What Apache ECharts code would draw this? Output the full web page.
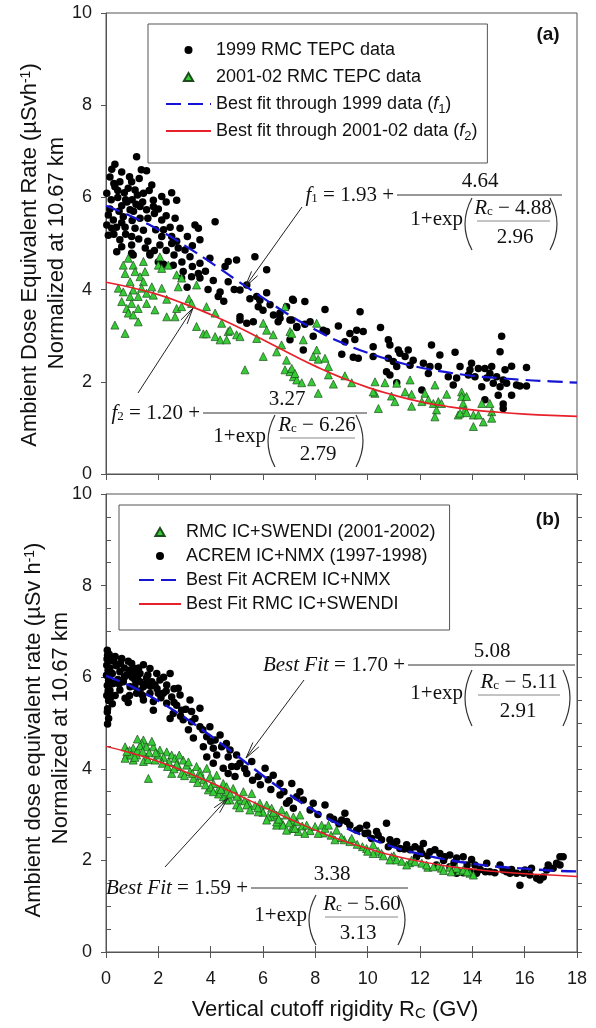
<!DOCTYPE html>
<html>
<head>
<meta charset="utf-8">
<script src="https://cdn.jsdelivr.net/npm/echarts@6/dist/echarts.min.js"></script>
<style>
html,body{margin:0;padding:0;background:#fff}
#chart{width:596px;height:1028px}
</style>
</head>
<body>
<div id="chart"></div>
<script>
// ---- data ----
// (a) 1999 RMC TEPC data  [Rc, rate]
var tepc1999 = [
 [1.17,6.88],[0.34,6.72],[0.22,6.61],[0.15,6.44],[0.53,6.34],[0.34,6.23],[0.98,6.34],[1.27,6.41],[1.55,6.58],[1.75,6.27],
 [1.11,6.16],[1.43,6.09],[0.03,6.09],[2.51,6.10],[2.70,5.94],[2.13,6.02],[1.81,5.94],[0.80,5.90],[1.00,5.95],[1.15,5.85],
 [1.30,5.80],[0.60,5.82],[0.92,5.73],[1.55,5.73],[1.81,5.80],[0.09,5.62],[0.28,5.51],[0.66,5.58],[1.30,5.55],[2.13,5.51],
 [2.64,5.55],[4.17,5.47],[0.03,5.40],[0.22,5.33],[0.73,5.35],[1.11,5.33],[1.43,5.29],[2.45,5.35],[2.83,5.33],[3.40,5.40],
 [3.53,5.33],[0.09,5.18],[0.53,5.08],[0.98,5.15],[2.13,5.15],[2.51,5.15],[3.11,5.15],[3.59,5.08],[0.60,4.93],[0.98,4.97],
 [2.06,4.97],[2.51,5.00],[2.76,4.90],[0.41,4.82],[0.98,4.79],[1.68,4.75],[3.02,4.86],[3.21,4.71],[3.97,4.68],[4.67,4.61],
 [4.99,4.64],[5.69,4.71],[4.55,4.50],[2.95,4.39],[3.53,4.35],[3.27,4.28],[2.89,4.25],[3.59,4.25],[4.67,4.17],[5.38,4.10],
 [6.14,4.43],[6.14,3.93],[5.88,3.77],[4.36,3.95],[4.29,3.85],[5.82,3.63],[6.27,3.67],[6.90,3.63],[7.13,3.79],[6.65,3.49],
 [7.03,3.34],[6.58,3.30],[5.63,3.30],[5.12,3.41],[5.38,3.27],[7.29,3.20],[1.04,4.75],[1.68,4.79],[2.57,4.53],[3.59,4.57],
 [5.12,3.99],[5.76,3.85],[5.12,3.34],[7.16,3.77],[7.03,2.91],[6.65,3.38],[0.45,6.00],[0.70,6.10],[0.85,6.20],[1.20,6.05],
 [1.40,5.90],[0.50,5.70],[0.20,5.95],[1.65,6.15],[2.00,5.75],[2.30,5.60],[0.15,5.75],[0.40,5.35],[1.90,5.30],[2.30,5.90],
 [1.00,5.50],[0.75,5.20],[1.60,5.05],[2.30,4.85],[2.00,4.60],
 [0.30,6.30],[0.60,6.55],[0.90,6.45],[1.35,6.60],[0.45,6.15],[0.75,5.95],[1.05,5.70],[1.60,5.55],[1.85,5.65],[2.20,5.30],
 [0.30,5.20],[0.60,5.45],[1.25,5.10],[1.50,4.90],[1.85,4.85],[2.60,4.75],[2.90,4.60],[3.30,4.50],[3.80,4.40],[4.10,4.20],
 [4.90,4.00],[5.50,3.80],[6.00,3.55],[6.40,3.45],[3.10,4.05],[3.90,4.00],[4.50,3.75],[2.20,4.55],[2.70,5.05],[3.30,4.95],
 [7.60,3.74],[8.37,3.57],[9.71,3.52],[7.10,3.34],[7.29,3.18],[7.60,3.25],[7.80,3.30],[7.92,2.99],[7.54,2.69],[8.30,3.12],
 [8.43,3.09],[8.88,3.21],[9.32,3.05],[9.58,3.12],[9.83,3.09],[9.51,2.92],[9.13,2.87],[9.01,2.60],[9.45,2.53],[9.64,2.51],
 [10.49,3.18],[10.21,2.76],[10.79,2.91],[10.85,2.80],[10.21,2.55],[10.79,2.51],[10.98,2.44],[10.72,2.22],[10.85,2.15],[11.11,2.33],
 [11.17,2.69],[11.23,2.62],[11.55,2.69],[11.43,2.55],[11.74,2.47],[11.62,2.36],[12.13,2.40],[12.38,2.33],[12.44,2.80],[12.76,2.58],
 [12.70,2.33],[12.32,2.18],[12.07,1.82],[11.11,1.98],[13.34,2.64],[13.53,2.33],[13.40,2.08],[13.08,2.11],[13.27,1.93],[13.97,2.40],
 [13.91,2.26],[14.23,2.29],[13.85,2.15],[14.10,2.11],[14.48,2.29],[14.74,2.33],[14.67,2.18],[14.36,1.89],[14.55,2.08],[15.12,2.99],
 [15.06,2.65],[15.25,2.26],[15.50,2.34],[14.93,2.11],[15.18,2.04],[14.80,1.97],[15.06,1.89],[15.31,1.97],[14.99,1.71],[15.50,1.71],
 [15.18,1.52],[15.18,1.42],[14.48,1.61],[15.69,1.93],[15.82,1.91],[16.07,1.91],[16.07,2.31]
];
// (a) 2001-02 RMC TEPC data
var tepc2001 = [
 [0.85,4.68],[0.66,4.53],[1.04,4.53],[1.43,4.61],[2.00,4.53],[2.06,4.71],[2.38,4.53],[0.73,4.35],[1.11,4.39],[1.49,4.39],
 [2.13,4.46],[1.30,4.28],[1.43,4.17],[0.92,4.17],[2.70,4.32],[2.89,4.25],[2.76,4.06],[3.46,4.10],[0.47,4.03],[0.66,3.95],
 [1.04,3.99],[1.36,4.03],[1.75,4.06],[1.55,3.92],[0.92,3.85],[1.23,3.85],[1.81,3.88],[2.13,4.03],[2.32,3.79],[0.60,3.74],
 [0.98,3.70],[1.55,3.70],[3.17,3.80],[3.27,3.70],[2.70,3.59],[2.89,3.63],[3.84,3.63],[0.79,3.59],[1.23,3.59],[1.87,3.56],
 [0.85,3.49],[1.04,3.45],[2.32,3.41],[2.64,3.41],[4.17,3.49],[1.23,3.30],[0.34,3.23],[3.46,3.20],[4.42,3.27],[0.73,3.05],
 [3.72,3.04],[3.84,3.04],[4.67,3.09],[4.99,3.02],[6.01,3.27],[6.14,3.12],[6.84,3.63],[7.03,3.09],[6.39,3.02],[4.17,2.98],
 [4.36,2.91],[4.74,3.12],[5.12,2.98],[4.61,2.91],[5.31,2.26],[5.76,2.94],[6.01,2.55],[6.52,2.65],[6.71,2.80],[6.90,2.47],
 [6.84,2.26],[7.03,2.22],[7.16,2.11],[7.29,2.04],[8.05,3.27],[7.54,2.91],[7.10,3.05],[8.05,2.69],[7.92,2.55],[8.11,2.49],
 [8.37,2.51],[8.50,2.33],[8.50,2.15],[7.10,2.29],[7.22,2.18],[7.48,1.98],[7.86,2.00],[8.69,1.95],[8.11,1.75],[9.13,2.13],
 [9.39,1.98],[10.28,2.00],[10.28,1.75],[10.21,1.78],[10.41,1.42],[10.66,1.98],[10.91,1.69],[11.04,1.57],[11.11,1.97],[11.43,1.78],
 [11.62,2.04],[11.68,1.73],[11.68,1.47],[12.07,1.57],[12.19,1.75],[12.32,1.61],[12.57,1.93],[12.51,1.53],[12.70,1.57],[12.82,1.53],
 [12.63,1.39],[12.57,1.24],[13.02,1.73],[13.59,1.78],[13.59,1.68],[13.78,1.68],[13.65,1.53],[13.72,1.39],[13.46,1.28],[13.53,1.32],
 [13.78,1.33],[14.04,1.28],[14.23,1.28],[14.04,1.03],[14.42,1.13],[14.36,1.53],[14.67,1.53],[14.74,1.35],[14.74,1.21]
];
// (b) ACREM IC+NMX (1997-1998)
var acrem = [
 [0.05,6.59],[0.06,6.48],[0.10,6.37],[0.03,6.26],[0.08,6.15],[0.02,6.04],[0.10,5.93],[0.05,5.82],[0.15,5.71],[0.03,5.60],
 [0.10,5.49],[0.06,5.31],[0.05,5.24],[0.06,4.98],[0.19,6.37],[0.24,6.08],[0.28,5.86],[0.19,5.57],[0.24,5.42],[0.12,6.50],
 [0.15,6.20],[0.08,5.70],[0.13,6.00],[0.20,5.85],[0.04,6.40],[0.10,5.10],
 [0.60,6.41],[0.98,6.30],[1.11,6.19],[1.43,6.27],[1.68,6.19],[0.53,6.12],[0.79,6.05],[1.30,6.08],[1.94,6.08],[2.45,6.08],
 [0.66,5.90],[1.11,5.94],[1.55,5.98],[2.06,5.94],[0.92,5.79],[1.43,5.79],[1.87,5.83],[2.32,5.83],[2.76,5.76],[0.53,5.72],
 [1.17,5.65],[1.68,5.65],[2.19,5.65],[2.51,5.57],[2.83,5.61],[0.73,5.54],[1.43,5.50],[1.81,5.47],[2.32,5.43],[2.70,5.39],
 [3.21,5.50],[3.59,5.32],[1.81,5.28],[2.57,5.21],[2.89,5.28],[3.27,5.25],[2.45,5.10],[2.95,5.07],[3.27,5.03],[3.59,4.92],
 [3.15,4.85],[3.97,4.92],[3.34,4.67],[3.85,4.70],[4.17,4.63],[4.36,4.74],[3.72,4.48],[4.10,4.45],[4.42,4.48],[4.74,4.41],
 [3.85,4.26],[4.23,4.30],[4.67,4.26],[4.99,4.30],[5.57,4.16],[4.10,4.12],[4.48,4.01],[4.80,4.05],[5.12,4.12],[5.38,3.90],
 [4.67,3.90],[4.93,3.83],[6.08,4.01],[6.39,3.86],[5.82,3.83],[6.20,3.76],[6.65,3.68],[7.10,3.68],[6.65,3.43],[7.29,3.39],
 [6.90,3.25],[7.16,3.14],[0.85,6.35],[1.25,6.20],[0.70,6.20],[1.60,6.05],[1.00,6.00],[0.40,6.25],[0.45,5.95],[1.30,5.90],
 [1.95,5.75],[0.90,5.60],[1.30,5.70],[2.10,5.55],[2.60,5.75],[1.05,6.10],[1.75,5.90],[2.20,6.00],[0.35,6.45],
 [0.30,6.35],[0.55,6.30],[0.70,6.00],[0.90,6.15],[1.20,6.00],[1.50,5.85],[1.70,5.80],[2.00,5.65],[2.30,5.70],[2.60,5.45],
 [0.35,5.60],[0.50,5.85],[0.85,5.45],[1.10,5.80],[1.40,5.60],[2.85,5.15],[3.05,5.30],[3.40,5.10],[3.70,4.85],[4.00,4.60],
 [4.60,4.55],[5.00,4.05],[5.30,4.00],[5.60,3.75],[5.90,3.65],[6.30,3.55],[6.80,3.50],[7.00,3.30],
 [7.54,3.32],[7.92,3.25],[8.37,3.21],[7.41,3.50],[8.56,2.95],[9.13,3.03],[9.01,2.88],[9.32,2.77],[9.58,2.66],[9.96,2.77],
 [9.90,2.59],[10.15,2.48],[10.34,2.63],[10.72,2.81],[10.53,2.45],[10.85,2.45],[10.79,2.30],[11.11,2.41],[11.23,2.26],[11.49,2.34],
 [11.62,2.23],[11.81,2.30],[12.13,2.37],[12.07,2.15],[12.38,2.19],[12.57,2.23],[12.76,2.15],[12.95,2.08],[13.14,2.12],[13.40,2.05],
 [13.65,2.08],[13.97,2.02],[14.10,1.90],[13.40,1.72],[13.65,1.73],[13.91,1.75],[14.16,1.72],[14.67,1.75],[15.06,1.90],[15.31,1.75],
 [15.69,1.72],[15.82,1.46],[14.55,1.94],[12.63,1.90],[13.14,1.86],[11.87,2.08],[15.18,1.79],[15.44,1.72],[15.95,1.72],[16.20,1.68],
 [16.46,1.61],[16.71,1.64],[16.58,1.57],[16.84,1.79],[17.09,1.83],[17.35,1.90],[17.47,2.08],[17.35,2.08],[17.22,1.94],[16.90,1.90],
 [16.26,1.83],[16.01,1.79],[14.86,1.73],[7.80,3.10],[8.10,3.00],[8.70,2.90],[8.90,2.80],[9.20,2.85],[9.70,2.70],[10.00,2.60],
 [10.40,2.55],[11.00,2.35],[11.40,2.25],[12.00,2.25],[12.30,2.10],[12.90,2.00],[13.30,1.95],[13.80,1.90],[14.30,1.80],[14.50,1.75],
 [15.50,1.80]
];
// (b) RMC IC+SWENDI (2001-2002)
var swendi = [
 [1.43,4.63],[1.36,4.56],[1.55,4.48],[0.73,4.48],[1.04,4.45],[1.81,4.48],[2.06,4.41],[2.32,4.37],[2.51,4.30],[0.79,4.30],
 [1.17,4.30],[1.55,4.26],[0.73,4.23],[1.04,4.19],[1.43,4.16],[1.87,4.19],[2.64,4.23],[2.95,4.19],[2.76,4.05],[3.08,4.08],
 [3.46,4.05],[3.21,3.94],[3.59,3.94],[3.85,4.01],[2.51,3.90],[2.89,3.90],[1.62,3.79],[3.97,3.83],[4.23,3.86],[3.34,3.79],
 [3.72,3.76],[4.10,3.68],[4.48,3.68],[4.61,3.61],[4.86,3.57],[4.29,3.54],[3.91,3.54],[5.25,3.50],[5.57,3.46],[4.48,3.39],
 [4.74,3.32],[5.12,3.32],[5.44,3.25],[4.99,3.21],[5.88,3.25],[6.14,3.21],[6.33,3.14],[5.95,3.10],[6.71,3.10],[6.52,2.99],
 [6.90,2.99],[7.16,2.88],[6.71,2.84],[7.10,2.70],[6.52,2.77],[0.90,4.40],[1.20,4.40],[1.65,4.35],[2.20,4.25],[1.30,4.50],
 [0.95,4.30],[2.00,4.30],[2.40,4.15],[1.75,4.60],[1.20,4.65],[2.70,4.10],[3.30,3.90],[3.60,3.85],[4.00,3.60],[4.30,3.45],
 [4.60,3.50],[5.00,3.40],[5.30,3.30],[5.70,3.20],[6.00,3.05],[6.30,2.95],[4.61,3.32],[5.38,3.21],[5.82,3.06],[6.20,2.95],
 [6.52,2.84],[6.77,2.77],[7.16,2.70],[6.90,2.66],[6.14,2.88],[7.29,2.84],[7.35,2.63],
 [0.80,4.38],[1.10,4.25],[1.40,4.38],[1.60,4.20],[1.90,4.35],[2.15,4.12],[2.35,4.05],[2.60,4.00],[2.80,4.30],[3.00,3.85],
 [3.15,4.15],[3.50,3.70],[3.80,3.65],[4.10,3.50],[4.40,3.55],[4.75,3.45],[5.10,3.15],[5.50,3.10],[5.80,3.15],[6.40,3.05],
 [6.60,2.90],[7.00,2.82],[7.50,2.75],[7.80,2.65],[8.30,2.60],[8.60,2.55],[9.10,2.45],[9.80,2.30],[10.40,2.20],[11.00,2.10],
 [11.60,1.95],[12.30,1.85],[12.70,1.88],[13.50,1.77],
 [7.16,2.95],[7.41,2.99],[7.22,2.70],[7.60,2.59],[7.67,2.77],[7.99,2.74],[8.11,2.59],[8.24,2.77],[8.37,2.70],[8.50,2.77],
 [8.75,2.45],[8.81,2.66],[9.32,2.41],[9.39,2.48],[9.96,2.26],[10.21,2.15],[10.53,2.15],[10.91,2.08],[10.85,2.01],[11.11,2.01],
 [11.49,1.90],[11.68,2.01],[11.81,1.97],[12.07,1.94],[12.25,1.90],[12.51,1.86],[12.82,1.83],[13.14,1.85],[13.40,1.83],[13.65,1.79],
 [13.91,1.72],[14.04,1.68],[10.21,2.34],[9.00,2.50],[9.60,2.35],[10.00,2.20],[10.60,2.10],[11.30,1.98],[12.90,1.78],[13.20,1.75],
 [13.80,1.75]
];
// fitted curves read along Rc = 0..18 GV
var rcGrid = [0,1,2,3,4,5,6,7,8,9,10,11,12,13,14,15,16,17,18];
var fitF1 = [5.82,5.58,5.30,4.96,4.59,4.20,3.82,3.45,3.13,2.85,2.63,2.45,2.31,2.21,2.13,2.08,2.04,2.01,1.98];
var fitF2 = [4.16,4.04,3.89,3.69,3.46,3.20,2.91,2.62,2.34,2.09,1.88,1.71,1.57,1.47,1.39,1.34,1.30,1.27,1.25];
var fitAcrem = [6.03,5.79,5.48,5.12,4.72,4.29,3.85,3.44,3.07,2.76,2.50,2.29,2.14,2.02,1.93,1.86,1.82,1.78,1.76];
var fitSwendi = [4.49,4.34,4.16,3.94,3.70,3.44,3.17,2.91,2.66,2.44,2.26,2.10,1.98,1.88,1.81,1.75,1.71,1.68,1.65];

var namesA = ['1999 RMC TEPC data', '2001-02 RMC TEPC data',
  'Best fit through 1999 data (f1)', 'Best fit through 2001-02 data (f2)'];
var namesB = ['RMC IC+SWENDI (2001-2002)', 'ACREM IC+NMX (1997-1998)',
  'Best Fit ACREM IC+NMX', 'Best Fit RMC IC+SWENDI'];

// ---- helpers ----
var SANS = "'Liberation Sans', Arial, sans-serif";
var SERIF = "'Liberation Serif', 'Times New Roman', serif";
var AX = '#555';
var BLUE = '#1414d2', RED = '#e8202a', GREEN = '#36cc36';
var TRI = 'path://M5,0L10,8.66L0,8.66Z';

function zip(xs, ys) {
  return xs.map(function (x, i) { return [x, ys[i]]; });
}

function txt(x, y, text, align, size, family, extra) {
  var st = {
    text: text, x: 0, y: 0, fill: '#111',
    fontSize: size || 21, fontFamily: family || SERIF,
    align: align || 'center', textAlign: align || 'center',
    verticalAlign: 'middle', textVerticalAlign: 'middle',
    rich: {
      it: { fontStyle: 'italic', fontSize: size || 21, fontFamily: family || SERIF },
      sub: { fontSize: 13, fontFamily: family || SERIF, verticalAlign: 'bottom', lineHeight: 13 },
      sup: { fontSize: 14, fontFamily: family || SANS, verticalAlign: 'top', lineHeight: 14 }
    }
  };
  if (extra) for (var k in extra) st[k] = extra[k];
  return { type: 'text', x: x, y: y, style: st, z: 10 };
}
function seg(x1, y1, x2, y2, color, w) {
  return { type: 'line', shape: { x1: x1, y1: y1, x2: x2, y2: y2 },
    style: { stroke: color || '#222', lineWidth: w || 1 }, z: 10 };
}
function paren(xOut, cy, h, dir) {
  // dir -1 = left paren, 1 = right paren
  var xe = xOut - dir * 7;
  return { type: 'bezierCurve',
    shape: { x1: xe, y1: cy - h, x2: xe, y2: cy + h, cpx1: xOut + dir * 7, cpy1: cy },
    style: { stroke: '#333', lineWidth: 1.2, fill: null }, z: 10 };
}
function arrow(x1, y1, x2, y2) {
  var a = Math.atan2(y1 - y2, x1 - x2), L = 17, s = 0.22;
  return [
    seg(x1, y1, x2, y2, '#222', 1),
    seg(x2, y2, x2 + L * Math.cos(a + s), y2 + L * Math.sin(a + s), '#222', 1),
    seg(x2, y2, x2 + L * Math.cos(a - s), y2 + L * Math.sin(a - s), '#222', 1)
  ];
}
function formula(o) {
  return [
    txt(o.bx1 - 3, o.by, o.prefix, 'right'),
    seg(o.bx1, o.by, o.bx2, o.by, '#333', 1),
    txt(o.nx, o.by - 14, o.num),
    txt(o.px1 - 2, o.iy - 2, '1+exp', 'right'),
    paren(o.px1, o.iy + 3, o.ph, -1),
    txt(o.ix, o.iy - 13, o.inum),
    seg(o.ix1, o.iy, o.ix2, o.iy, '#888', 1),
    txt(o.dx, o.iy + 16, o.den),
    paren(o.px2, o.iy + 3, o.ph, 1)
  ];
}

var xTitle = txt(335, 1010, 'Vertical cutoff rigidity R{sub|C} (GV)', 'center', 22, SANS);
xTitle.style.rich.sub = { fontSize: 15, fontFamily: SANS, verticalAlign: 'bottom', lineHeight: 15 };

function vTitle(x, y, text) {
  var el = txt(x, y, text, 'center', 22, SANS);
  el.rotation = Math.PI / 2;
  return el;
}

var graphics = [].concat(
  formula({ prefix: '{it|f}{sub|1} = 1.93 +', bx1: 397, bx2: 562, by: 195, nx: 480, num: '4.64',
    px1: 465, px2: 557, ph: 26, iy: 221, ix: 513, ix1: 477, ix2: 550, inum: '{it|R}{sub|c} − 4.88', dx: 515, den: '2.96' }),
  formula({ prefix: '{it|f}{sub|2} = 1.20 +', bx1: 203, bx2: 367, by: 413, nx: 287, num: '3.27',
    px1: 268, px2: 363, ph: 26, iy: 438, ix: 317, ix1: 280, ix2: 355, inum: '{it|R}{sub|c} − 6.26', dx: 318, den: '2.79' }),
  formula({ prefix: '{it|Best Fit} = 1.70 +', bx1: 408, bx2: 575, by: 665, nx: 492, num: '5.08',
    px1: 465, px2: 570, ph: 28, iy: 695, ix: 519, ix1: 478, ix2: 560, inum: '{it|R}{sub|c} − 5.11', dx: 518, den: '2.91' }),
  formula({ prefix: '{it|Best Fit} = 1.59 +', bx1: 251, bx2: 408, by: 888, nx: 332, num: '3.38',
    px1: 309, px2: 405, ph: 25, iy: 917, ix: 362, ix1: 325, ix2: 398, inum: '{it|R}{sub|c} − 5.60', dx: 358, den: '3.13' }),
  arrow(302, 207, 245, 287),
  arrow(138, 393, 193, 308),
  arrow(304, 680, 246, 758),
  arrow(165, 867, 228, 798),
  [
    txt(548, 35, '(a)', 'center', 19, SANS, { fontWeight: 'bold' }),
    txt(548, 520, '(b)', 'center', 19, SANS, { fontWeight: 'bold' }),
    vTitle(30, 255, 'Ambient Dose Equivalent Rate (µSvh{sup|-1})'),
    vTitle(57, 253, 'Normalized at 10.67 km'),
    vTitle(34, 730, 'Ambient dose equivalent rate (µSv h{sup|-1})'),
    vTitle(61, 728, 'Normalized at 10.67 km'),
    xTitle
  ]
);

var minorTicks = [];
for (var t = 0; t <= 20; t++) { if (t % 4 !== 0) minorTicks.push(t * 0.5); }

function xAx(grid, pos, labels) {
  return {
    type: 'value', gridIndex: grid, position: pos, min: 0, max: 18, interval: 2,
    axisLine: { show: true, lineStyle: { color: AX, width: 1 } },
    axisTick: { show: true, inside: false, length: 6, lineStyle: { color: AX } },
    axisLabel: { show: labels, fontSize: 18, fontFamily: SANS, color: '#1a1a1a', margin: 18 },
    splitLine: { show: false }
  };
}
function yAx(grid, pos, labels, step, inside, custom) {
  var tick = { show: true, inside: inside, length: 5, lineStyle: { color: AX } };
  if (custom) tick.customValues = custom;
  return {
    type: 'value', gridIndex: grid, position: pos, min: 0, max: 10, interval: step,
    axisLine: { show: !custom, lineStyle: { color: AX, width: 1 } },
    axisTick: tick,
    axisLabel: { show: labels, fontSize: 18, fontFamily: SANS, color: '#1a1a1a', margin: 14 },
    splitLine: { show: false }
  };
}

var legendText = {
  fontSize: 18, fontFamily: SANS, color: '#111', lineHeight: 24,
  rich: {
    i: { fontStyle: 'italic', fontSize: 18, fontFamily: SANS, lineHeight: 24 },
    s: { fontSize: 13, fontFamily: SANS, verticalAlign: 'bottom', lineHeight: 13 }
  }
};
function legendFmt(name) {
  return name.replace(/\(f(\d)\)/, '({i|f}{s|$1})');
}
var hideMark = { color: 'rgba(0,0,0,0)', borderColor: 'rgba(0,0,0,0)', borderWidth: 0 };

var option = {
  animation: false,
  backgroundColor: '#fff',
  grid: [
    { left: 106, top: 13, width: 471, height: 461, show: true, borderColor: AX, borderWidth: 1, backgroundColor: 'transparent' },
    { left: 106, top: 494, width: 471, height: 458, show: true, borderColor: AX, borderWidth: 1, backgroundColor: 'transparent' }
  ],
  xAxis: [ xAx(0, 'bottom', false), xAx(1, 'bottom', true), xAx(1, 'top', false) ],
  yAxis: [
    yAx(0, 'left', true, 2, false),
    yAx(1, 'left', true, 2, false),
    yAx(1, 'left', false, 0.5, true, minorTicks),
    yAx(1, 'right', false, 0.5, false)
  ],
  legend: [
    { data: [
        { name: namesA[0] },
        { name: namesA[1], icon: TRI },
        { name: namesA[2], itemStyle: hideMark },
        { name: namesA[3], itemStyle: hideMark }
      ],
      orient: 'vertical', left: 148, top: 24, padding: [14, 10, 20, 17],
      itemWidth: 45, itemHeight: 8, itemGap: 3, selectedMode: false, symbolKeepAspect: true,
      backgroundColor: '#fff', borderColor: AX, borderWidth: 1,
      textStyle: legendText, formatter: legendFmt },
    { data: [
        { name: namesB[0], icon: TRI },
        { name: namesB[1] },
        { name: namesB[2], itemStyle: hideMark },
        { name: namesB[3], itemStyle: hideMark }
      ],
      orient: 'vertical', left: 119, top: 505, padding: [15, 14, 14, 19],
      itemWidth: 42, itemHeight: 8, itemGap: 0, selectedMode: false, symbolKeepAspect: true,
      backgroundColor: '#fff', borderColor: AX, borderWidth: 1,
      textStyle: legendText }
  ],
  series: [
    { name: namesA[0], type: 'scatter', xAxisIndex: 0, yAxisIndex: 0, data: tepc1999,
      symbol: 'circle', symbolSize: 7.5, itemStyle: { color: '#000', opacity: 1 } },
    { name: namesA[1], type: 'scatter', xAxisIndex: 0, yAxisIndex: 0, data: tepc2001,
      symbol: 'triangle', symbolSize: 8, itemStyle: { color: GREEN, borderColor: '#1d4d1d', borderWidth: 0.7, opacity: 1 } },
    { name: namesA[2], type: 'line', xAxisIndex: 0, yAxisIndex: 0, data: zip(rcGrid, fitF1),
      smooth: true, symbol: 'none', lineStyle: { color: BLUE, width: 2.2, type: [15, 7] }, itemStyle: { color: BLUE } },
    { name: namesA[3], type: 'line', xAxisIndex: 0, yAxisIndex: 0, data: zip(rcGrid, fitF2),
      smooth: true, symbol: 'none', lineStyle: { color: RED, width: 1.7 }, itemStyle: { color: RED } },

    { name: namesB[1], type: 'scatter', xAxisIndex: 1, yAxisIndex: 1, data: acrem,
      symbol: 'circle', symbolSize: 7.5, itemStyle: { color: '#000', opacity: 1 } },
    { name: namesB[0], type: 'scatter', xAxisIndex: 1, yAxisIndex: 1, data: swendi,
      symbol: 'triangle', symbolSize: 8, itemStyle: { color: GREEN, borderColor: '#1d4d1d', borderWidth: 0.7, opacity: 1 } },
    { name: namesB[2], type: 'line', xAxisIndex: 1, yAxisIndex: 1, data: zip(rcGrid, fitAcrem),
      smooth: true, symbol: 'none', lineStyle: { color: BLUE, width: 2.4, type: [15, 7] }, itemStyle: { color: BLUE } },
    { name: namesB[3], type: 'line', xAxisIndex: 1, yAxisIndex: 1, data: zip(rcGrid, fitSwendi),
      smooth: true, symbol: 'none', lineStyle: { color: RED, width: 1.5 }, itemStyle: { color: RED } }
  ],
  graphic: { elements: graphics }
};

var chart = echarts.init(document.getElementById('chart'));
chart.setOption(option);
</script>
</body>
</html>
